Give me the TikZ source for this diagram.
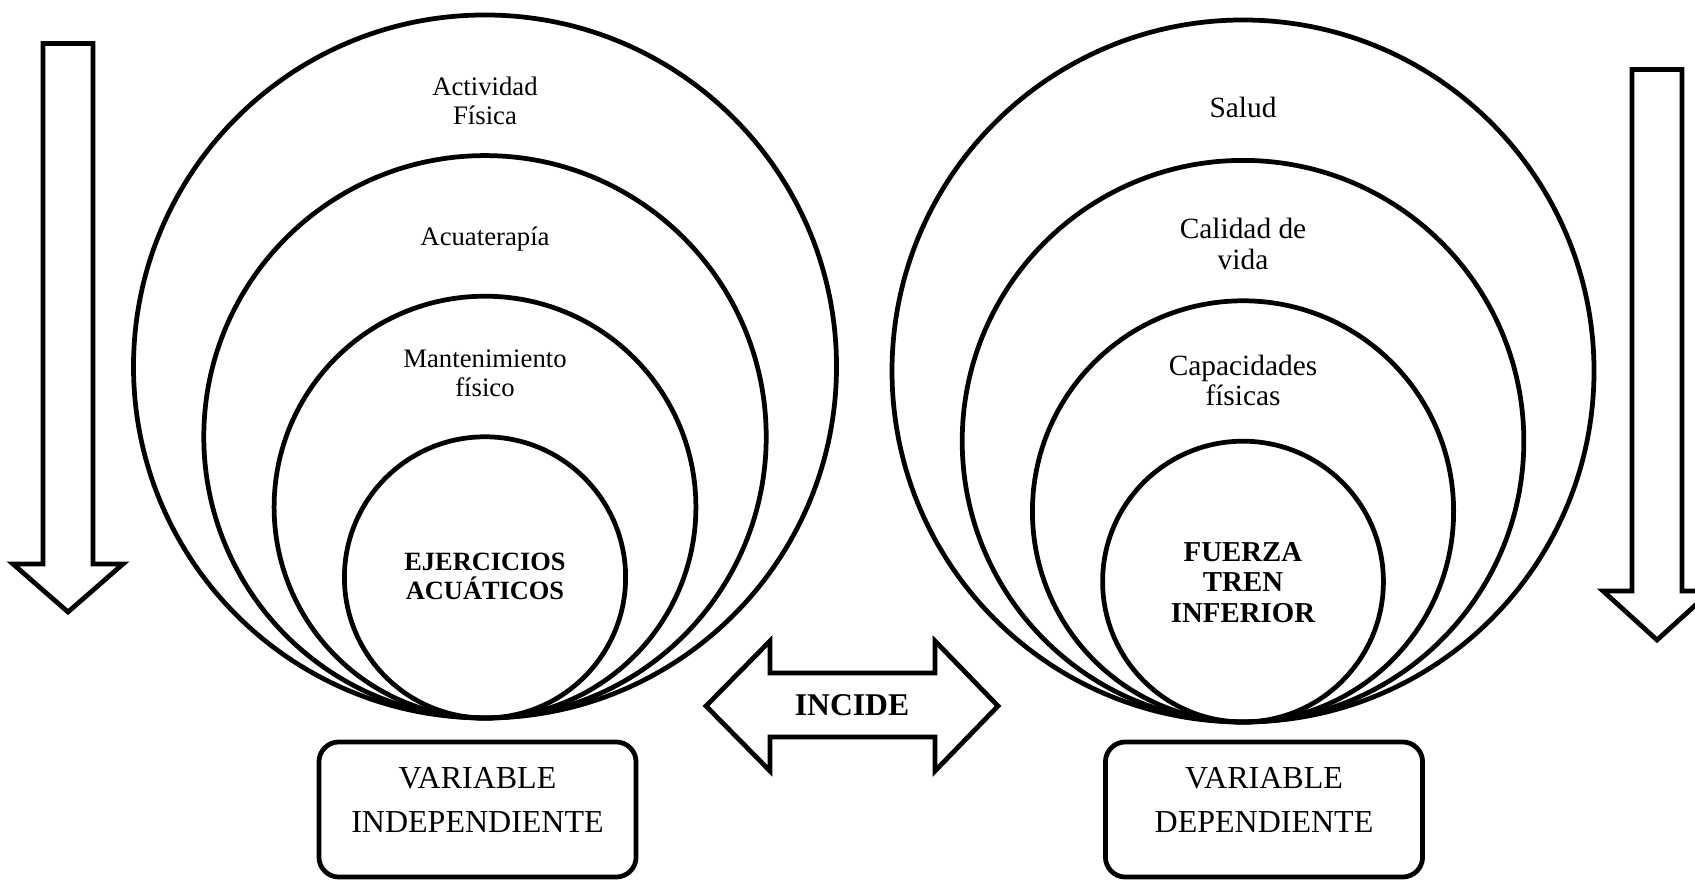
\documentclass[tikz,border=0pt]{standalone}
\usepackage{fontspec}
\setmainfont{Liberation Serif}
\usetikzlibrary{positioning}
\tikzset{
  ring/.style={line width=1.35pt},
  blockarrow/.style={draw,line width=1.35pt,line join=miter},
  lefttext/.style={align=center,inner sep=0pt,font=\fontsize{7.6}{8.2}\selectfont},
  leftcore/.style={lefttext,font=\bfseries\fontsize{7.5}{8.2}\selectfont},
  righttext/.style={align=center,inner sep=0pt,font=\fontsize{8.35}{8.65}\selectfont},
  rightcore/.style={righttext,font=\bfseries\fontsize{8.2}{8.7}\selectfont},
  varbox/.style={draw,line width=1.35pt,rounded corners=0.2cm,
    minimum width=3.17cm,minimum height=1.35cm},
  vartext/.style={align=center,inner sep=0pt,font=\fontsize{9.1}{12.5}\selectfont}
}
\begin{document}
\begin{tikzpicture}[x=0.01cm,y=0.01cm]
  \useasboundingbox (0,0) rectangle (1695,879);
  \coordinate (baseL) at (485,161);
  \coordinate (baseR) at (1243,157);
  \foreach \k in {2,...,5} {
    \draw[ring] (baseL) ++(0,70.3*\k) circle[radius=70.3*\k];
    \draw[ring] (baseR) ++(0,70.2*\k) circle[radius=70.2*\k];
  }
  \node[lefttext] (actividad) at (485,778.5) {Actividad\\Física};
  \node[lefttext] (acuaterapia) at (485,640) {Acuaterapía};
  \node[lefttext] (mantenimiento) at (485,505.5) {Mantenimiento\\físico};
  \node[leftcore] (ejercicios) at (485,302.5) {EJERCICIOS\\ACUÁTICOS};
  \node[righttext] (salud) at (1243,772) {Salud};
  \node[righttext] (calidad) at (1243,635) {Calidad de\\vida};
  \node[righttext] (capacidades) at (1243,498.5) {Capacidades\\físicas};
  \node[rightcore] (fuerza) at (1243,296.5) {FUERZA\\TREN\\INFERIOR};
  \node[varbox] (indep) at (477.5,69.5) {};
  \node[vartext] (indeptext) at ([yshift=0.095cm]indep.center) {VARIABLE\\INDEPENDIENTE};
  \node[varbox] (dep) at (1264,69.5) {};
  \node[vartext] (deptext) at ([yshift=0.095cm]dep.center) {VARIABLE\\DEPENDIENTE};
  \draw[blockarrow] (706,173) -- (770,238) -- (770,206) -- (935,206) -- (935,238)
    -- (998,173) -- (935,108) -- (935,142) -- (770,142) -- (770,108) -- cycle;
  \node[font=\bfseries\fontsize{9}{10}\selectfont] (incide) at (852,174) {INCIDE};
  \draw[blockarrow] (43,835.5) -- (93,835.5) -- (93,315) -- (123,315) -- (68,267)
    -- (13,315) -- (43,315) -- cycle;
  \draw[blockarrow] (1632,809.5) -- (1682,809.5) -- (1682,288) -- (1711,288)
    -- (1657,239) -- (1603,288) -- (1632,288) -- cycle;
\end{tikzpicture}
\end{document}
